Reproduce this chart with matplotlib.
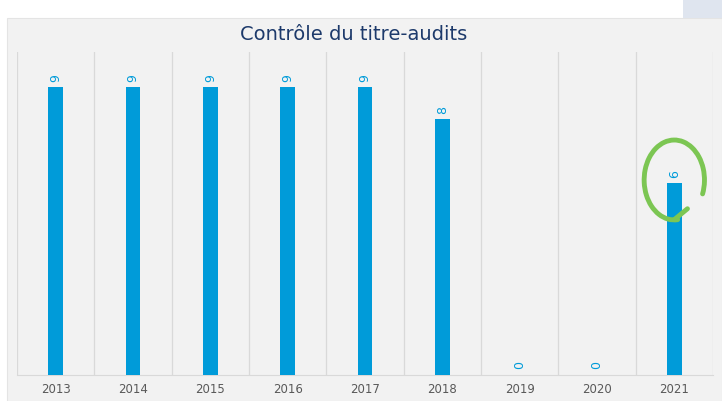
import matplotlib.pyplot as plt
from matplotlib.patches import Arc, Rectangle

annees = ['2013', '2014', '2015', '2016', '2017', '2018', '2019', '2020', '2021']
audits = [9, 9, 9, 9, 9, 8, 0, 0, 6]

bleu = '#009bd9'
fond = '#f2f2f2'

fig = plt.figure(figsize=(7.22, 4.01), dpi=100)
fig.patch.set_facecolor('white')
# panneau gris + petit bout de bleu en haut à droite (capture d'écran)
fig.patches.append(Rectangle((0.010, 0), 0.99, 0.955, transform=fig.transFigure,
                             facecolor=fond, edgecolor='#e4e4e4', lw=0.8, zorder=-2))
fig.patches.append(Rectangle((0.946, 0.955), 0.06, 0.05, transform=fig.transFigure,
                             facecolor='#dfe5ef', edgecolor='none', zorder=-2))

ax = fig.add_axes([0.0235, 0.065, 0.964, 0.805])
ax.set_facecolor(fond)
x = range(len(annees))
ax.bar(x, audits, width=0.19, color=bleu, zorder=3)

for i, v in enumerate(audits):
    ax.annotate(str(v), (i, v), xytext=(0, 4), textcoords='offset points',
                ha='center', va='bottom', rotation=90, color=bleu, fontsize=9)

for b in [i - 0.5 for i in range(len(annees) + 1)]:
    ax.axvline(b, color='#d9d9d9', lw=0.9, zorder=1)

ax.set_xlim(-0.5, 8.5)
ax.set_ylim(0, 10.1)
ax.set_xticks(list(x))
ax.set_xticklabels(annees, color='#595959', fontsize=8.5)
ax.tick_params(axis='x', length=0, pad=6)
ax.set_yticks([])
for s in ['top', 'left', 'right']:
    ax.spines[s].set_visible(False)
ax.spines['bottom'].set_color('#d9d9d9')

# le cercle vert dessiné à la main autour de 2021
vert = '#7cc653'
ax.add_patch(Arc((8.0, 6.1), 0.78, 2.5, angle=0, theta1=-50, theta2=272,
                 color=vert, lw=3.5, zorder=5, capstyle='round'))
ax.plot([8.0, 8.17], [4.86, 5.2], color=vert, lw=3.5, zorder=5,
        solid_capstyle='round')

fig.text(0.49, 0.913, 'Contrôle du titre-audits', ha='center', va='center',
         fontsize=14, color='#1d3a6b')

plt.savefig('out.png', dpi=100)
